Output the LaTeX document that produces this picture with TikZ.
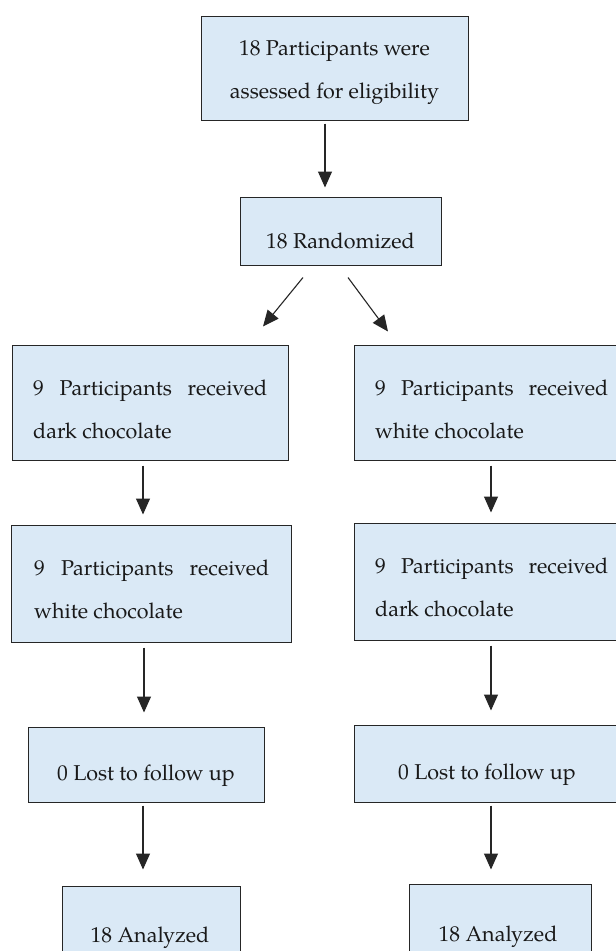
\documentclass[tikz,border=0pt]{standalone}
\usepackage{fontspec}
\setmainfont{TeX Gyre Pagella}
\usetikzlibrary{arrows.meta,calc}
\definecolor{boxblue}{HTML}{DAE9F6}
\begin{document}
\begin{tikzpicture}[x=1pt,y=-1pt,
  box/.style={draw=black!85, line width=1pt, fill=boxblue, inner sep=0pt},
  txt/.style={inner sep=0pt, font=\fontsize{21.5}{43}\selectfont, text=black!90},
  arr/.style={line width=1.1pt, draw=black!85, -{Triangle[width=14pt,length=16pt]}}]
\fill[white] (0,0) rectangle (616,951);
\clip (0,0) rectangle (616,951);
% boxes
\node[box, minimum width=267pt, minimum height=104pt] (top) at (334.5,68) {};
\node[box, minimum width=201pt, minimum height=68pt] (rand) at (340.5,231) {};
\node[box, minimum width=276pt, minimum height=115pt] (l1) at (150,402.5) {};
\node[box, minimum width=276pt, minimum height=115pt] (r1) at (492,402.5) {};
\node[box, minimum width=280pt, minimum height=117pt] (l2) at (151,583.5) {};
\node[box, minimum width=276pt, minimum height=117pt] (r2) at (492,581.5) {};
\node[box, minimum width=236pt, minimum height=75pt] (l3) at (146,764.5) {};
\node[box, minimum width=266pt, minimum height=77pt] (r3) at (487,763.5) {};
\node[box, minimum width=178pt, minimum height=114pt] (l4) at (151,943) {};
\node[box, minimum width=182pt, minimum height=116pt] (r4) at (500,942) {};
% texts
\node[txt, anchor=base] (toptxt) at (334.5,55) {\parbox[t]{260pt}{\centering 18 Participants were\\ assessed for eligibility}};
\node[txt, anchor=base] (randtxt) at (340.5,248) {18 Randomized};
\node[txt, anchor=base west] (l1txt) at (33,395) {\parbox[t]{234pt}{\makebox[234pt][s]{9 Participants received}\\ dark chocolate}};
\node[txt, anchor=base west] (r1txt) at (375,395) {\parbox[t]{234pt}{\makebox[233pt][s]{9 Participants received}\\ white chocolate}};
\node[txt, anchor=base west] (l2txt) at (34,575) {\parbox[t]{236pt}{\makebox[235pt][s]{9 Participants received}\\ white chocolate}};
\node[txt, anchor=base west] (r2txt) at (375,573) {\parbox[t]{234pt}{\makebox[233pt][s]{9 Participants received}\\ dark chocolate}};
\node[txt, anchor=base] (l3txt) at (146,780) {0 Lost to follow up};
\node[txt, anchor=base] (r3txt) at (487,779) {0 Lost to follow up};
\node[txt, anchor=base] (l4txt) at (150,942) {18 Analyzed};
\node[txt, anchor=base] (r4txt) at (498,941) {18 Analyzed};
% arrows
\draw[arr] ($(top.south)+(-9.5,3)$) -- ($(rand.north)+(-15.5,-9)$);
\draw[arr] ($(rand.south)+(-37.5,12)$) -- ($(l1.north)+(113,-18)$);
\draw[arr] ($(rand.south)+(7.5,12)$) -- ($(r1.north)+(-104,-13)$);
\draw[arr] ($(l1.south)+(-7,5)$) -- ($(l2.north)+(-8,-10)$);
\draw[arr] ($(r1.south)+(-1,5)$) -- ($(r2.north)+(-1,-10)$);
\draw[arr] ($(l2.south)+(-7,5)$) -- ($(l3.north)+(-2,-14)$);
\draw[arr] ($(r2.south)+(-1,5)$) -- ($(r3.north)+(4,-14)$);
\draw[arr] ($(l3.south)+(-3,3)$) -- ($(l4.north)+(-8,-16)$);
\draw[arr] ($(r3.south)+(4,3)$) -- ($(r4.north)+(-9,-14)$);
\end{tikzpicture}
\end{document}
